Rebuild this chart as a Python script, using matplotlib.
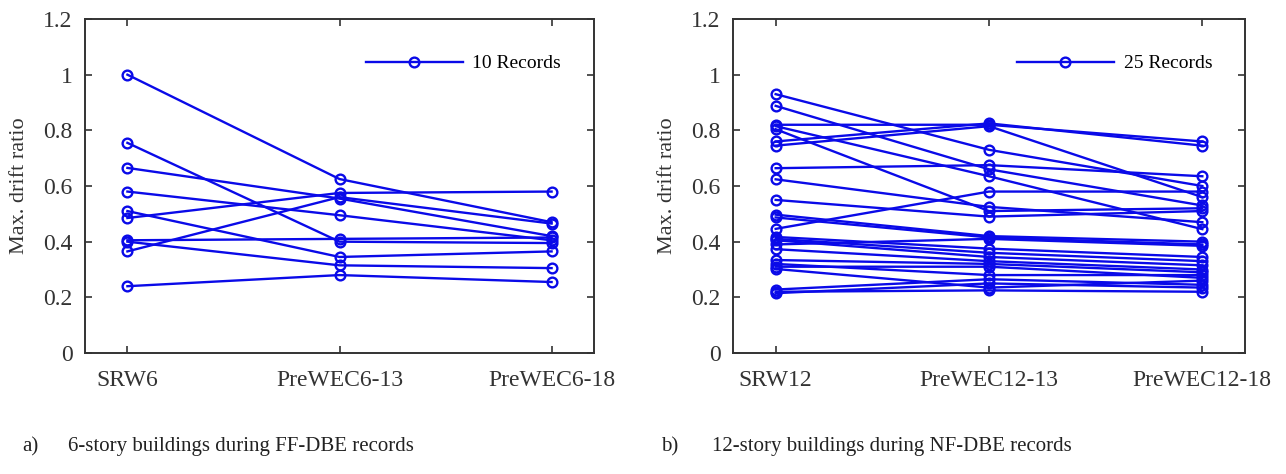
import numpy as np
import matplotlib.pyplot as plt

plt.rcParams['font.family'] = ['Liberation Serif', 'DejaVu Serif']

# panel a) 6-story buildings, FF-DBE records (10 records)
labels_a = ["SRW6", "PreWEC6-13", "PreWEC6-18"]
srw6 = [1.00, 0.755, 0.665, 0.58, 0.51, 0.485, 0.405, 0.40, 0.365, 0.24]
pre6_13 = [0.625, 0.40, 0.555, 0.495, 0.345, 0.575, 0.41, 0.315, 0.56, 0.28]
pre6_18 = [0.47, 0.395, 0.42, 0.405, 0.365, 0.58, 0.415, 0.305, 0.465, 0.255]

# panel b) 12-story buildings, NF-DBE records (25 records)
labels_b = ["SRW12", "PreWEC12-13", "PreWEC12-18"]
srw12 = [0.93, 0.888, 0.82, 0.815, 0.804, 0.76, 0.745, 0.664, 0.624, 0.55,
         0.497, 0.487, 0.446, 0.417, 0.41, 0.405, 0.39, 0.373, 0.334, 0.32,
         0.31, 0.302, 0.228, 0.22, 0.215]
pre12_13 = [0.73, 0.66, 0.82, 0.635, 0.51, 0.825, 0.815, 0.675, 0.525, 0.49,
            0.42, 0.415, 0.58, 0.375, 0.36, 0.345, 0.41, 0.33, 0.32, 0.28,
            0.31, 0.235, 0.265, 0.225, 0.25]
pre12_18 = [0.60, 0.53, 0.76, 0.445, 0.52, 0.745, 0.56, 0.635, 0.47, 0.51,
            0.40, 0.39, 0.58, 0.345, 0.33, 0.315, 0.385, 0.30, 0.29, 0.28,
            0.27, 0.26, 0.245, 0.22, 0.235]

fig = plt.figure(figsize=(12.86, 4.74), dpi=100)
W, H = 1286, 474
ax1 = fig.add_axes([85 / W, 1 - 353 / H, 509 / W, 334 / H])
ax2 = fig.add_axes([733 / W, 1 - 353 / H, 512 / W, 334 / H])


def draw(ax, labels, cols, legend_label):
    data = np.array(cols).T
    x = np.arange(1, len(labels) + 1)
    for i, row in enumerate(data):
        ax.plot(x, row, color="#0a0ae8", linewidth=1.7, marker="o", markersize=7,
                markerfacecolor="none", markeredgewidth=1.7,
                label=legend_label if i == 0 else None)
    ax.set_xlim(0.8, 3.2)
    ax.set_ylim(0, 1.2)
    ax.set_xticks(x)
    ax.set_xticklabels(labels)
    ax.set_yticks([0, 0.2, 0.4, 0.6, 0.8, 1.0, 1.2])
    ax.set_yticklabels(["0", "0.2", "0.4", "0.6", "0.8", "1", "1.2"])
    ax.tick_params(axis="both", labelsize=17, direction="in", length=5, width=1.2,
                   top=True, right=True, color="#333333", labelcolor="#333333")
    ax.tick_params(axis="x", pad=12)
    ax.tick_params(axis="y", pad=9)
    ax.set_ylabel("Max. drift ratio", fontsize=16, color="#333333", labelpad=10)
    for sp in ax.spines.values():
        sp.set_linewidth(1.4)
        sp.set_color("#333333")
    ax.legend(loc="upper right", frameon=False, fontsize=14, handlelength=5.0,
              handletextpad=0.5, bbox_to_anchor=(0.97, 0.945))


draw(ax1, labels_a, [srw6, pre6_13, pre6_18], "10 Records")
draw(ax2, labels_b, [srw12, pre12_13, pre12_18], "25 Records")

fig.text(22 / W, 1 - 447 / H, "a)", fontsize=15, va="center", color="#222222")
fig.text(68 / W, 1 - 447 / H, "6-story buildings during FF-DBE records", fontsize=15,
         va="center", color="#222222")
fig.text(661 / W, 1 - 447 / H, "b)", fontsize=15, va="center", color="#222222")
fig.text(712 / W, 1 - 447 / H, "12-story buildings during NF-DBE records", fontsize=15,
         va="center", color="#222222")

fig.savefig("out.png", dpi=100)
